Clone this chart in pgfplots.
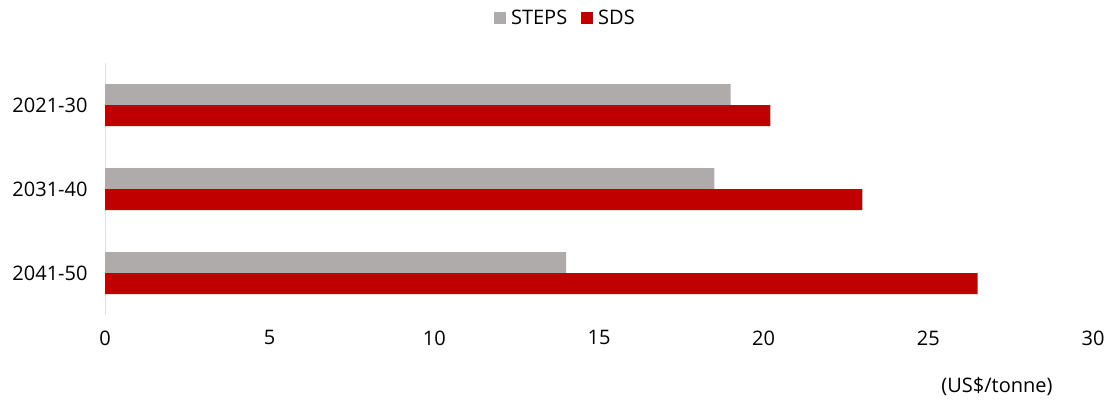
\documentclass[border=0pt]{standalone}
\usepackage{pgfplots}
\pgfplotsset{compat=1.18}
\usepackage{fontspec}
\setmainfont{Open Sans}
\definecolor{steps}{RGB}{175,171,171}
\definecolor{sds}{RGB}{192,0,0}
\begin{document}
\begin{tikzpicture}
\begin{axis}[
  at={(105bp,88bp)}, anchor=south west,
  scale only axis,
  width=988bp, height=252bp,
  xmin=0, xmax=30,
  ymin=-0.5, ymax=2.5,
  y dir=reverse,
  xbar, bar width=0.25, bar shift=0pt,
  xtick={0,5,...,30},
  ytick={0,1,2},
  yticklabels={2021-30,2031-40,2041-50},
  major tick length=0pt,
  axis x line*=bottom,
  axis y line*=left,
  x axis line style={draw=none},
  y axis line style={draw=black!12, line width=1bp},
  tick label style={font=\fontsize{20bp}{23bp}\selectfont},
  /pgf/number format/assume math mode=true,
  xticklabel style={yshift=-12bp},
  yticklabel style={xshift=-14bp},
  legend style={at={(0.466,1.179)}, anchor=center, draw=none, fill=none,
    legend columns=2, font=\fontsize{20bp}{23bp}\selectfont,
    /tikz/every odd column/.append style={column sep=3bp},
    /tikz/every even column/.append style={column sep=12bp}},
  legend image code/.code={\fill[#1] (0bp,-6bp) rectangle (12bp,6bp);},
]
\addplot[fill=steps, draw=none] coordinates {(19,-0.125) (18.5,0.875) (14,1.875)};
\addlegendentry{STEPS}
\addplot[fill=sds, draw=none] coordinates {(20.2,0.125) (23,1.125) (26.5,2.125)};
\addlegendentry{SDS}
\end{axis}
\node[font=\fontsize{20bp}{23bp}\selectfont] at (997bp,17bp) {(US\$/tonne)};
\pgfresetboundingbox
\path (0,0) rectangle (1109bp,403bp);
\end{tikzpicture}
\end{document}
